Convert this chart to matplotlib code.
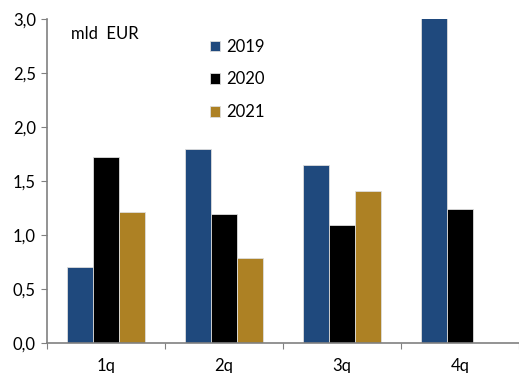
import matplotlib
matplotlib.use('Agg')
import matplotlib.pyplot as plt
import numpy as np
from matplotlib.ticker import FuncFormatter

quarters = ['1q', '2q', '3q', '4q']
years = ['2019', '2020', '2021']
v2019 = [0.70, 1.80, 1.65, 3.05]
v2020 = [1.72, 1.19, 1.09, 1.24]
v2021 = [1.21, 0.79, 1.41, np.nan]
colors = ['#1f497d', '#000000', '#ad8124']

plt.rcParams['font.family'] = ['Lato', 'DejaVu Sans']

fig = plt.figure(figsize=(5.19, 3.73), dpi=100)
ax = fig.add_axes([0.0906, 0.0804, 0.9094, 0.8686])

x = np.arange(len(quarters)) + 0.5
w = 0.22
handles = []
for i, (vals, c) in enumerate(zip([v2019, v2020, v2021], colors)):
    b = ax.bar(x + (i - 1) * w, vals, w, color=c, edgecolor='#dddddd', linewidth=0.6, label=years[i])
    handles.append(b)

ax.set_xlim(0, 4)
ax.set_ylim(0, 3.0)
ax.set_yticks(np.arange(0, 3.01, 0.5))
ax.yaxis.set_major_formatter(FuncFormatter(lambda v, p: f'{v:.1f}'.replace('.', ',')))
ax.set_xticks([0, 1, 2, 3, 4])
ax.set_xticklabels([])
ax.set_xticks(x, minor=True)
ax.set_xticklabels(quarters, minor=True)
ax.tick_params(axis='x', which='minor', length=0, labelsize=12, pad=11)
ax.tick_params(axis='x', which='major', length=4, color='#808080', direction='out')
ax.tick_params(axis='y', length=4, color='#808080', labelsize=12, pad=4)

for s in ['top', 'right']:
    ax.spines[s].set_visible(False)
for s in ['left', 'bottom']:
    ax.spines[s].set_color('#808080')
    ax.spines[s].set_linewidth(1.2)

ax.text(0.05, 0.98, 'mld  EUR', transform=ax.transAxes, fontsize=12, va='top')

ax.legend(handles=handles, loc='upper left', bbox_to_anchor=(0.32, 0.975), frameon=False,
          fontsize=12, handlelength=0.6, handleheight=0.6, handletextpad=0.4,
          labelspacing=1.0, borderpad=0.2)

fig.savefig('out.png', dpi=100)
